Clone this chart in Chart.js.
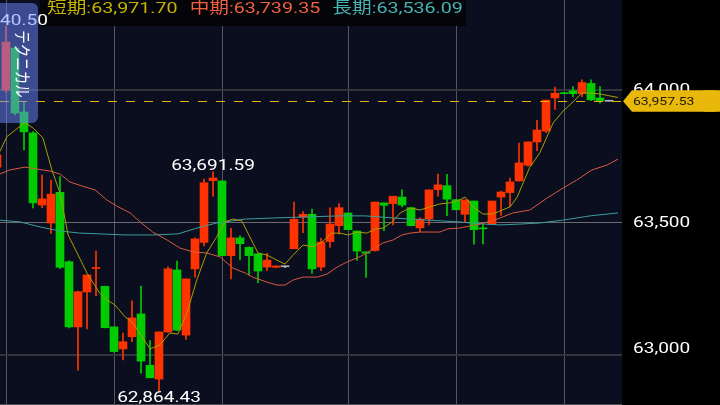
<!DOCTYPE html>
<html>
<head>
<meta charset="utf-8">
<script src="https://cdn.jsdelivr.net/npm/chart.js@4.4.0/dist/chart.umd.min.js"></script>
<style>
html, body { margin: 0; padding: 0; background: #000; }
#wrap { width: 720px; height: 405px; position: relative; }
</style>
</head>
<body>
<div id="wrap"><canvas id="chart"></canvas></div>
<script>
// candles, index 0..68
const opens = [63709, 64000, 64158, 63917, 63838, 63566, 63498, 63614, 63352, 63106,
  63238, 63326, 63259, 63106, 63023, 63069, 63155, 62961, 62909, 63087,
  63321, 63075, 63325, 63425, 63658, 63657, 63375, 63442, 63406, 63382,
  63332, 63331, 63333, 63401, 63520, 63531, 63332, 63428, 63488, 63536,
  63468, 63389, 63394, 63574, 63571, 63596, 63556, 63480, 63513, 63624,
  63639, 63586, 63531, 63581, 63479, 63494, 63596, 63613, 63657, 63716,
  63804, 63845, 63970, 63990, 63997, 63986, 64025, 63970, 63957.53];
const closes = [63755, 64181, 63913, 63842, 63574, 63589, 63607, 63331, 63106, 63239,
  63302, 63330, 63103, 63013, 63050, 63140, 62977, 62914, 63087, 63325,
  63094, 63287, 63438, 63650, 63668, 63375, 63442, 63420, 63375, 63317,
  63358, 63336, 63333, 63512, 63531, 63325, 63426, 63494, 63556, 63473,
  63392, 63384, 63577, 63565, 63599, 63566, 63488, 63513, 63623, 63642,
  63588, 63548, 63585, 63473, 63476, 63581, 63615, 63653, 63725, 63804,
  63849, 63962, 63988, 63986, 63986, 64028, 63963, 63960, 63957.53];
const highs = [63762, 64240.50, 64166, 63956, 63843, 63679, 63660, 63673, 63355, 63241,
  63302, 63392, 63260, 63106, 63083, 63204, 63260, 63054, 63087, 63333,
  63354, 63287, 63442, 63664, 63691.59, 63657, 63478, 63450, 63408, 63383,
  63384, 63336, 63336, 63577, 63541, 63551, 63440, 63555, 63571, 63536,
  63468, 63389, 63577, 63574, 63599, 63623, 63556, 63518, 63623, 63683,
  63682, 63587, 63585, 63581, 63493, 63581, 63619, 63668, 63800, 63804,
  63886, 63962, 64011, 63990, 64013, 64038, 64038, 64013, 63957.53];
const lows = [63706, 63992, 63906, 63774, 63555, 63556, 63459, 63326, 63102, 62943,
  63098, 63224, 63102, 63011, 62981, 63050, 62931, 62914, 62864.43, 63085,
  63092, 63059, 63294, 63412, 63599, 63374, 63287, 63359, 63302, 63273,
  63318, 63330, 63330, 63401, 63462, 63308, 63318, 63406, 63456, 63472,
  63357, 63293, 63392, 63469, 63491, 63559, 63487, 63465, 63491, 63599,
  63526, 63547, 63503, 63418, 63419, 63492, 63527, 63560, 63657, 63713,
  63771, 63839, 63927, 63986, 63975, 63975, 63960, 63950, 63957.53];

// moving averages at candle positions
const shortAt = [0.3, 1.1, 3.1, 4, 5.1, 6.1, 7, 7.9, 8.9, 10, 11.4, 12.2, 13.1, 14.2, 15.1,
  17, 18.1, 19.2, 20.1, 21.1, 22.2, 23.3, 24.4, 25.3, 26.2, 27.2, 28.1, 29, 30, 31.1,
  32, 32.9, 34, 35.1, 36.1, 37.2, 38.1, 39, 40, 41.1, 42, 42.9, 43.9, 44.8, 45.9,
  47, 48.1, 49.2, 50.3, 51.4, 52, 52.9, 54, 55.1, 57, 57.8, 59.2, 60.3, 61.8, 62.9,
  64, 65, 65.9, 67, 69];
const shortMa = [63767, 63824, 63877, 63857, 63819, 63698, 63611, 63453, 63385, 63309,
  63234, 63208, 63189, 63145, 63121, 63023, 63038, 63083, 63079, 63159,
  63283, 63385, 63445, 63502, 63513, 63506, 63445, 63385, 63377, 63358,
  63343, 63377, 63415, 63408, 63426, 63460, 63460, 63453, 63464, 63460,
  63475, 63479, 63502, 63536, 63555, 63547, 63559, 63570, 63574, 63585,
  63596, 63559, 63532, 63532, 63559, 63596, 63709, 63762, 63876, 63921,
  63955, 63989, 63989, 63985, 63971.70];
const midAt = [0.3, 1.4, 3.1, 4.4, 5.9, 7, 8.1, 9.4, 10.9, 12.2, 13.3, 14.8, 15.9, 17.3, 18.9,
  20.3, 21.8, 23.3, 24.8, 26.2, 27.6, 28.4, 30, 31.1, 32, 32.9, 34, 35.6, 36.7, 37.8,
  38.9, 40, 40.9, 41.8, 42.9, 44, 45, 45.9, 47, 49.2, 50.1, 51.4, 52.6, 53.7, 55.6,
  57.3, 59.2, 61.1, 62.9, 64.4, 66.1, 67.8, 69];
const midMa = [63683, 63698, 63709, 63702, 63694, 63683, 63653, 63638, 63623, 63585,
  63562, 63536, 63502, 63464, 63434, 63404, 63389, 63385, 63370, 63328,
  63309, 63294, 63275, 63264, 63264, 63283, 63294, 63294, 63306, 63332,
  63351, 63366, 63381, 63400, 63423, 63434, 63453, 63460, 63464, 63464,
  63476, 63479, 63487, 63494, 63513, 63536, 63547, 63592, 63630, 63660,
  63698, 63717, 63739.35];
const longAt = [0.3, 2.6, 4.8, 7, 9.2, 11.4, 14.2, 17.3, 20.1, 22.2, 24.4, 27.6, 30.7,
  34.4, 38.1, 40.9, 44, 47.8, 51.4, 54.2, 55.9, 58.1, 60.3, 62.9, 65.9, 69];
const longMa = [63509, 63502, 63483, 63468, 63460, 63457, 63453, 63453, 63457, 63479,
  63498, 63513, 63517, 63521, 63525, 63525, 63517, 63509, 63502, 63494,
  63491, 63494, 63498, 63509, 63525, 63536.09];

const maNames = ["短期", "中期", "長期"];
const maColors = ["#c4b400", "#f2603e", "#46b4b4"];
const maLineColors = ["#aa9e00", "#d65a3e", "#3c9c9e"];

const priceTicks = [63000, 63500, 64000];
const priceGridColors = ["#34353c", "#6c6c72", "#34353c"];
const gridCandles = [1, 13, 25, 39, 51, 63];
const currentPrice = 63957.53;

// marked extremes: candle index, value, side
const markAt = [1, 24, 18];
const markVal = [64240.50, 63691.59, 62864.43];
const markSide = ["high", "high", "low"];

const UP = "#ff3300", DOWN = "#00cc00", FLAT = "#b4b4b8";
const candleColors = opens.map((o, i) => closes[i] > o ? UP : (closes[i] < o ? DOWN : FLAT));

const FONT = 'Roboto, "Noto Sans CJK JP", sans-serif';
const STRETCH = 1.27;

function fmt(v) {
  return v.toLocaleString("en-US", { minimumFractionDigits: 2, maximumFractionDigits: 2 });
}

function wideText(ctx, text, x, y, align, color, size) {
  ctx.save();
  ctx.font = size + "px " + FONT;
  ctx.fillStyle = color;
  ctx.textAlign = "left";
  ctx.textBaseline = "alphabetic";
  const w = ctx.measureText(text).width * STRETCH;
  let left = x;
  if (align === "center") left = x - w / 2;
  else if (align === "right") left = x - w;
  ctx.translate(left, y);
  ctx.scale(STRETCH, 1);
  ctx.fillText(text, 0, 0);
  ctx.restore();
  return w;
}

const screenPlugin = {
  id: "screen",
  beforeDraw(chart) {
    const ctx = chart.ctx, a = chart.chartArea;
    const xs = chart.scales.x, ys = chart.scales.y;
    ctx.save();
    ctx.fillStyle = "#000";
    ctx.fillRect(0, 0, chart.width, chart.height);
    ctx.fillStyle = "#0b0e1f";
    ctx.fillRect(a.left, a.top, a.right - a.left, a.bottom - a.top);

    ctx.lineWidth = 1;
    ctx.strokeStyle = "#55565c";
    gridCandles.forEach(i => {
      const x = Math.round(xs.getPixelForValue(i)) + 0.5;
      ctx.beginPath(); ctx.moveTo(x, a.top); ctx.lineTo(x, a.bottom); ctx.stroke();
    });
    priceTicks.forEach((v, k) => {
      const y = ys.getPixelForValue(v);
      ctx.strokeStyle = priceGridColors[k];
      ctx.lineWidth = k === 1 ? 1 : 2;
      ctx.beginPath(); ctx.moveTo(a.left, y); ctx.lineTo(a.right, y); ctx.stroke();
    });
    ctx.strokeStyle = "#4c4d55";
    ctx.lineWidth = 1;
    ctx.beginPath(); ctx.moveTo(a.left, a.bottom + 0.5); ctx.lineTo(a.right, a.bottom + 0.5); ctx.stroke();

    // legend band
    ctx.fillStyle = "#050509";
    ctx.fillRect(40, 0, 426, 26);
    ctx.restore();
  },
  afterDatasetsDraw(chart) {
    const ctx = chart.ctx, a = chart.chartArea;
    const xs = chart.scales.x, ys = chart.scales.y;
    ctx.save();

    // current price line
    const py = ys.getPixelForValue(currentPrice);
    ctx.strokeStyle = "#e2b200";
    ctx.lineWidth = 1;
    ctx.setLineDash([9, 9]);
    ctx.beginPath(); ctx.moveTo(a.left, Math.round(py) + 0.5); ctx.lineTo(a.right, Math.round(py) + 0.5); ctx.stroke();
    ctx.setLineDash([]);

    // extremes
    markAt.forEach((i, k) => {
      const x = xs.getPixelForValue(i);
      const y = ys.getPixelForValue(markVal[k]);
      const by = markSide[k] === "high" ? y - 1.3 : y + 11.4;
      wideText(ctx, fmt(markVal[k]), x, by, "center", "#ffffff", 15);
    });

    // technical panel
    ctx.fillStyle = "rgba(110, 136, 255, 0.5)";
    ctx.beginPath();
    ctx.roundRect(-10, 3, 48, 120, 6);
    ctx.fill();
    ctx.save();
    ctx.translate(20, 64);
    ctx.scale(STRETCH, 1);
    ctx.rotate(Math.PI / 2);
    ctx.font = "13.5px " + FONT;
    ctx.fillStyle = "#ffffff";
    ctx.textAlign = "center";
    ctx.textBaseline = "middle";
    ctx.fillText("テクニカル", 0, 0);
    ctx.restore();

    // MA legend
    const lastMa = [shortMa[shortMa.length - 1], midMa[midMa.length - 1], longMa[longMa.length - 1]];
    let lx = 47;
    maNames.forEach((n, k) => {
      const w = wideText(ctx, n + ":" + fmt(lastMa[k]), lx, 13, "left", maColors[k], 15.5);
      lx += w + 12;
    });

    // price axis labels
    priceTicks.forEach(v => {
      const y = Math.min(ys.getPixelForValue(v) + 4.5, a.bottom - 51);
      wideText(ctx, v.toLocaleString("en-US"), 633, y, "left", "#ffffff", 15);
    });

    // current price tag
    const ty = py;
    ctx.fillStyle = "#e8b80a";
    ctx.beginPath();
    ctx.moveTo(a.right + 1, ty);
    ctx.lineTo(a.right + 10, ty - 11);
    ctx.lineTo(chart.width + 10, ty - 11);
    ctx.lineTo(chart.width + 10, ty + 10.5);
    ctx.lineTo(a.right + 10, ty + 10.5);
    ctx.closePath();
    ctx.fill();
    ctx.beginPath();
    ctx.roundRect(chart.width - 20, ty - 11, 19, 21.5, 5);
    ctx.fill();
    wideText(ctx, fmt(currentPrice), 633, ty + 4, "left", "#1e1800", 11);

    ctx.restore();
  }
};

const bodyData = opens.map((o, i) => ({ x: i, y: [o, closes[i]] }));
const wickData = lows.map((l, i) => ({ x: i, y: [l, highs[i]] }));
const toPts = (xsArr, vals) => xsArr.map((x, i) => ({ x: x, y: vals[i] }));

new Chart(document.getElementById("chart"), {
  type: "bar",
  data: {
    datasets: [
      { type: "line", label: "短期", data: toPts(shortAt, shortMa), borderColor: maLineColors[0],
        borderWidth: 1, pointRadius: 0, tension: 0, order: 0 },
      { type: "line", label: "中期", data: toPts(midAt, midMa), borderColor: maLineColors[1],
        borderWidth: 1, pointRadius: 0, tension: 0, order: 0 },
      { type: "line", label: "長期", data: toPts(longAt, longMa), borderColor: maLineColors[2],
        borderWidth: 1, pointRadius: 0, tension: 0, order: 0 },
      { label: "body", data: bodyData, backgroundColor: candleColors, barThickness: 8,
        minBarLength: 1, grouped: false, order: 1 },
      { label: "wick", data: wickData, backgroundColor: candleColors, barThickness: 1,
        minBarLength: 1, grouped: false, order: 2 }
    ]
  },
  options: {
    responsive: true,
    maintainAspectRatio: false,
    devicePixelRatio: 1,
    animation: false,
    layout: { padding: { left: 0, top: 0, right: 98, bottom: 1 } },
    plugins: { legend: { display: false }, tooltip: { enabled: false } },
    scales: {
      x: { type: "linear", display: false, offset: false, min: 1 / 3, max: 1 / 3 + 622 / 9 },
      y: { display: false, min: 62815.1, max: 64339.6 }
    }
  },
  plugins: [screenPlugin]
});
</script>
</body>
</html>
